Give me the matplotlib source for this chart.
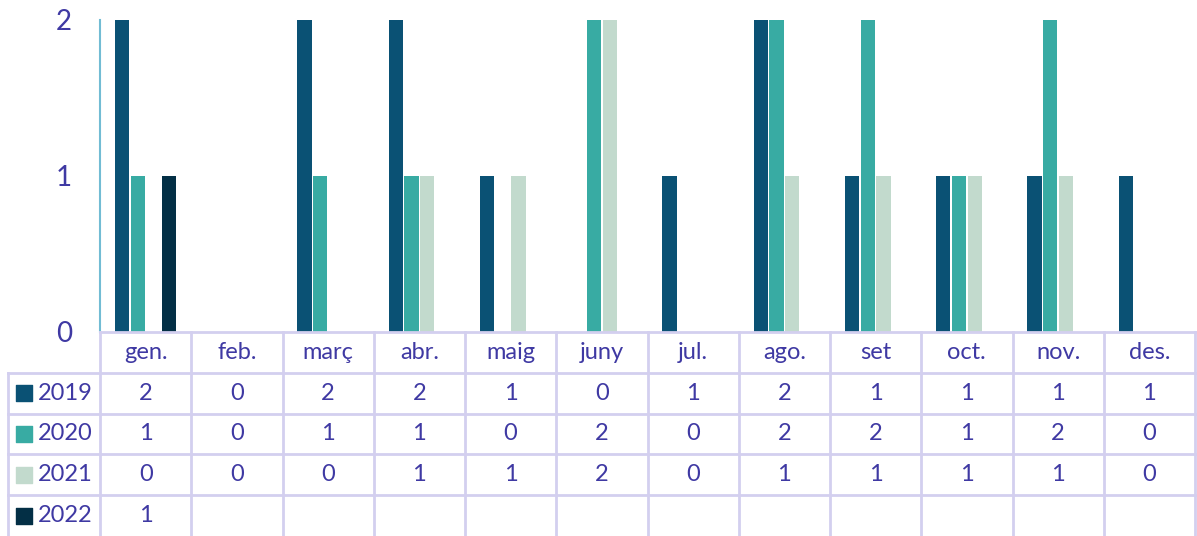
import matplotlib.pyplot as plt
import numpy as np

plt.rcParams['font.family'] = ['Lato', 'DejaVu Sans']

mesos = ['gen.', 'feb.', 'març', 'abr.', 'maig', 'juny', 'jul.', 'ago.', 'set', 'oct.', 'nov.', 'des.']
anys = ['2019', '2020', '2021', '2022']
v2019 = [2, 0, 2, 2, 1, 0, 1, 2, 1, 1, 1, 1]
v2020 = [1, 0, 1, 1, 0, 2, 0, 2, 2, 1, 2, 0]
v2021 = [0, 0, 0, 1, 1, 2, 0, 1, 1, 1, 1, 0]
v2022 = [1]
series = [v2019, v2020, v2021, v2022]
colors = ['#0A5174', '#38ABA3', '#C2DACD', '#032F45']

txt = '#3F39A3'
grid = '#D3CFEF'
W, H = 1197, 536

fig = plt.figure(figsize=(W / 100, H / 100), dpi=100)
ax = fig.add_axes([100 / W, (H - 332) / H, 1095 / W, 312 / H])

x = np.arange(len(mesos))
step = 0.173
bw = 0.155
for i, vals in enumerate(series):
    xs = x[:len(vals)] + (i - 1.5) * step
    ax.bar(xs, vals, width=bw, color=colors[i], edgecolor='none', zorder=2)

ax.set_xlim(-0.5, 11.5)
ax.set_ylim(0, 2)
ax.set_yticks([0, 1, 2])
ax.tick_params(axis='y', length=0, pad=20, labelsize=20, labelcolor=txt)
ax.set_xticks([])
for s in ['top', 'right', 'bottom']:
    ax.spines[s].set_visible(False)
ax.spines['left'].set_color('#72BCD4')
ax.spines['left'].set_linewidth(1.5)

# data table below the chart
left_ext = (100 - 8) / (1095 / 12)
tb = fig.add_axes([8 / W, 0, (1195 - 8) / W, (H - 332) / H])
tb.set_xlim(-0.5 - left_ext, 11.5)
tb.set_ylim(5, 0)
tb.axis('off')

xl = -0.5 - left_ext
tb.plot([-0.5, 11.5], [0, 0], color=grid, lw=2, clip_on=False)
for r in range(1, 5):
    tb.plot([xl, 11.5], [r, r], color=grid, lw=2, clip_on=False)
for k in range(13):
    tb.plot([-0.5 + k, -0.5 + k], [0, 5], color=grid, lw=2, clip_on=False)
tb.plot([xl, xl], [1, 5], color=grid, lw=2, clip_on=False)

for j, m in enumerate(mesos):
    tb.text(j, 0.5, m, ha='center', va='center', fontsize=17, color=txt)

for i, vals in enumerate(series):
    row = i + 1.5
    tb.scatter([xl + 0.17], [row], marker='s', s=130, color=colors[i], clip_on=False)
    tb.text(xl + 0.33, row, anys[i], ha='left', va='center', fontsize=17, color=txt)
    for j, v in enumerate(vals):
        tb.text(j, row, str(v), ha='center', va='center', fontsize=17, color=txt)

fig.savefig('out.png', dpi=100)
